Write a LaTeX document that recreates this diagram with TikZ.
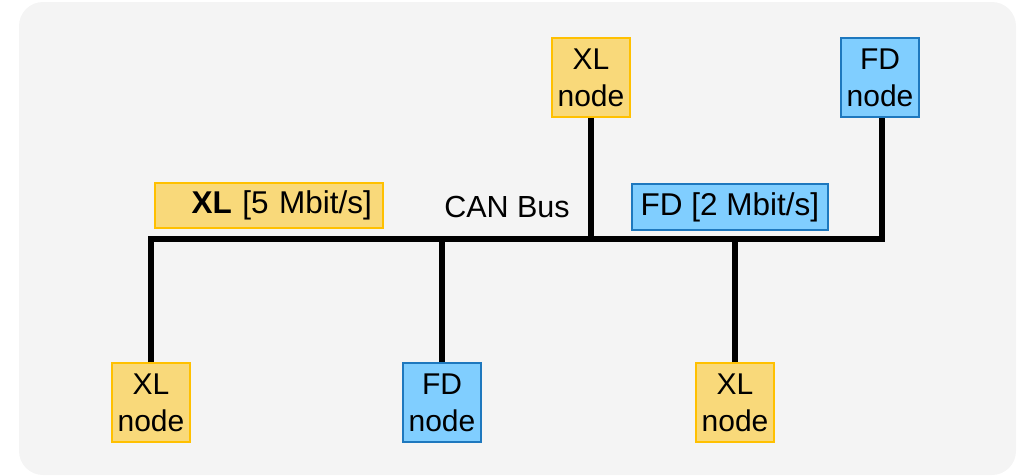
\documentclass[tikz,border=0pt]{standalone}
\usepackage{fontspec}
\setmainfont{Liberation Sans}
\begin{document}
\begin{tikzpicture}[x=1pt,y=-1pt,
  xlfill/.style={fill={rgb,255:red,249;green,217;blue,122},draw={rgb,255:red,255;green,192;blue,0}},
  fdfill/.style={fill={rgb,255:red,128;green,206;blue,255},draw={rgb,255:red,30;green,120;blue,190}},
  unit/.style={line width=1.2pt,minimum width=78pt,minimum height=79pt,inner sep=0pt,align=center,font=\fontsize{30}{37}\selectfont},
  xlnode/.style={unit,xlfill},
  fdnode/.style={unit,fdfill},
  ratebox/.style={line width=1.2pt,inner sep=0pt,font=\fontsize{31.5}{34}\selectfont},
  bus/.style={line width=5.5pt}
]
\useasboundingbox (0,0) rectangle (1017,475);
% panel
\fill[rounded corners=24pt,fill={rgb,255:red,244;green,244;blue,244}] (19,2) rectangle (1016,475);

% nodes
\node[xlnode] (xltop) at (591,77.5) {XL\\node};
\node[fdnode] (fdtop) at (880,77.5) {FD\\node};
\node[xlnode] (xl1) at (151,402.5) {XL\\node};
\node[fdnode] (fd1) at (442,402.5) {FD\\node};
\node[xlnode] (xl2) at (735,402.5) {XL\\node};

% rate labels
\node[ratebox,xlfill,inner xsep=11pt,text width=206pt,align=right,minimum height=45pt] (xlrate) at (269,205.5) {\textbf{XL} [5 Mbit/s]};
\node[ratebox,fdfill,minimum width=196pt,minimum height=46pt] (fdrate) at (730,207) {FD [2 Mbit/s]};
\node[font=\fontsize{30.5}{34}\selectfont] (canbus) at (507,207) {CAN Bus};

% bus line
\coordinate (busL) at (151,239);
\coordinate (busR) at (882,239);
\draw[bus] (xl1.north) -- (busL) -- (busR) -- (busR |- fdtop.south);
\draw[bus] (fd1.north) -- (fd1.north |- busL);
\draw[bus] (xl2.north) -- (xl2.north |- busL);
\draw[bus] (xltop.south) -- (xltop.south |- busL);
\end{tikzpicture}
\end{document}
